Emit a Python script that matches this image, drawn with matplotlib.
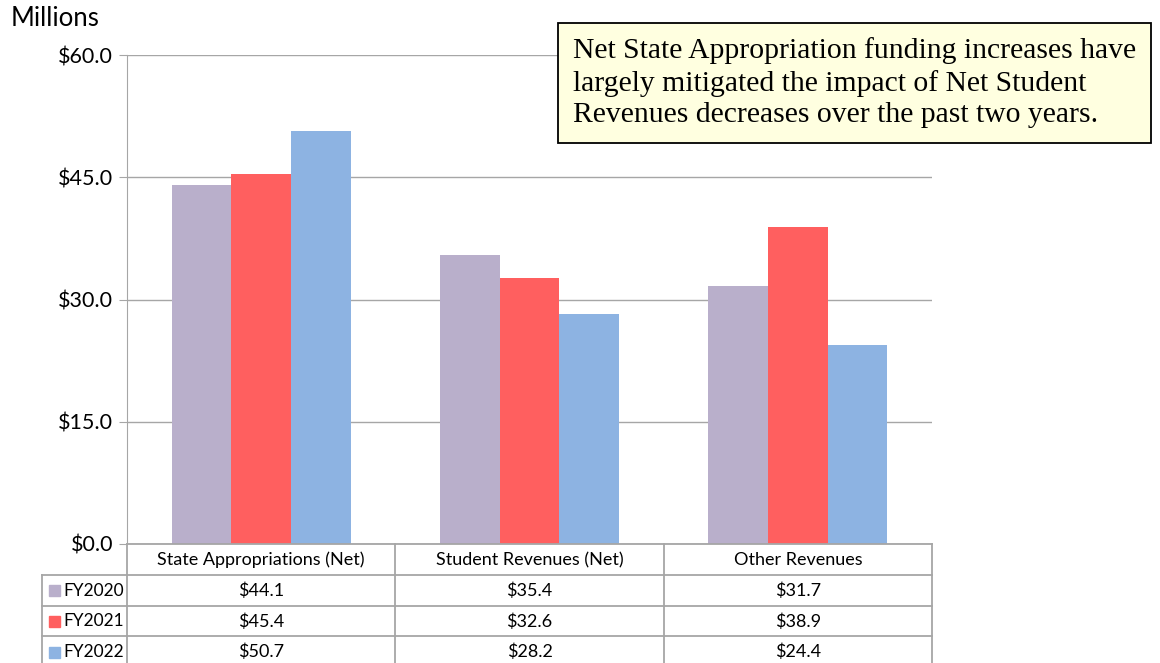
import numpy as np
import matplotlib.pyplot as plt
from matplotlib.patches import Rectangle

categories = ["State Appropriations (Net)", "Student Revenues (Net)", "Other Revenues"]
series_names = ["FY2020", "FY2021", "FY2022"]
fy2020 = [44.1, 35.4, 31.7]
fy2021 = [45.4, 32.6, 38.9]
fy2022 = [50.7, 28.2, 24.4]
yticks = [0, 15, 30, 45, 60]
note = ("Net State Appropriation funding increases have\n"
        "largely mitigated the impact of Net Student\n"
        "Revenues decreases over the past two years.")

colors = ["#B9AFCB", "#FF5F5F", "#8DB3E2"]
grid_c = "#A6A6A6"
W, H = 1160, 663


def main():
    fig = plt.figure(figsize=(W / 100, H / 100), dpi=100)
    plt.rcParams['font.family'] = ['Lato', 'DejaVu Sans']

    # main bar axes, placed in pixels
    ax = fig.add_axes([127 / W, 1 - 544 / H, (932 - 127) / W, (544 - 55) / H])
    x = np.arange(len(categories))
    bw = 0.222
    for i, vals in enumerate([fy2020, fy2021, fy2022]):
        ax.bar(x + (i - 1) * bw, vals, bw, color=colors[i], zorder=3)

    ax.set_xlim(-0.5, 2.5)
    ax.set_ylim(0, 60)
    ax.set_yticks(yticks)
    ax.set_yticklabels([f"${v:.1f}" for v in yticks], fontsize=15.5)
    ax.set_xticks([])
    ax.yaxis.grid(True, color=grid_c, lw=1, zorder=0)
    for s in ["top", "right", "bottom"]:
        ax.spines[s].set_visible(False)
    ax.spines["left"].set_color(grid_c)
    ax.tick_params(axis="y", length=6, color=grid_c, pad=4)
    fig.text(11 / W, 1 - 19 / H, "Millions", fontsize=18.5, va="center", ha="left")

    # data table under the chart
    unit = (932 - 127) / 3.0
    lc = 85 / unit
    tab = fig.add_axes([42 / W, 1 - 667 / H, (932 - 42) / W, (667 - 544) / H])
    tab.set_xlim(-0.5 - lc, 2.5)
    tab.set_ylim(4, 0)
    tab.axis("off")
    lk = dict(color=grid_c, lw=1.3, clip_on=False)
    tab.plot([-0.5, 2.5], [0, 0], **lk)
    for r in [1, 2, 3]:
        tab.plot([-0.5 - lc, 2.5], [r, r], **lk)
    for xv in [-0.5, 0.5, 1.5, 2.5]:
        tab.plot([xv, xv], [0, 4], **lk)
    tab.plot([-0.5 - lc, -0.5 - lc], [1, 4], **lk)

    for j, c in enumerate(categories):
        tab.text(j, 0.52, c, ha="center", va="center", fontsize=13)
    for i, vals in enumerate([fy2020, fy2021, fy2022]):
        row = i + 1.52
        sq_w, sq_h = 11 / unit, 11 / 30.75
        tab.add_patch(Rectangle((-0.5 - lc + 7 / unit, row - sq_h / 2), sq_w, sq_h,
                                color=colors[i], clip_on=False))
        tab.text(-0.5 - lc + 21 / unit, row, series_names[i], ha="left", va="center",
                 fontsize=12.5)
        for j, v in enumerate(vals):
            tab.text(j, row, f"${v:.1f}", ha="center", va="center", fontsize=13)

    # callout box
    fig.text(573 / W, 1 - 83 / H, note, fontsize=21.3, family="Liberation Serif",
             ha="left", va="center", linespacing=1.27,
             bbox=dict(boxstyle="square,pad=0.5", fc="#FFFFE0", ec="black", lw=1.3))

    fig.savefig("out.png", dpi=100)


if __name__ == '__main__':
    main()
